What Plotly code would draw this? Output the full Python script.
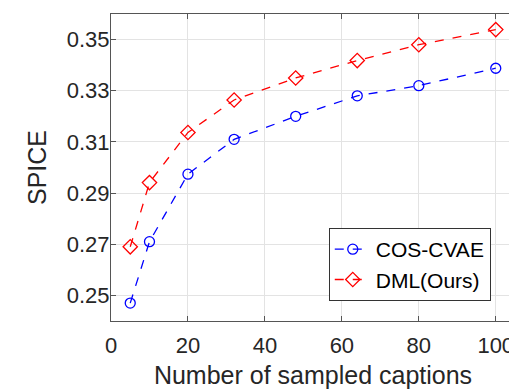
import plotly.graph_objects as go

num_captions = [5, 10, 20, 32, 48, 64, 80, 100]
cos_cvae = [0.247, 0.271, 0.2974, 0.311, 0.320, 0.328, 0.332, 0.3388]
dml_ours = [0.269, 0.2941, 0.3137, 0.3264, 0.335, 0.3418, 0.348, 0.3539]
x_ticks = [0, 20, 40, 60, 80, 100]
y_ticks = [0.25, 0.27, 0.29, 0.31, 0.33, 0.35]

FONT = "Liberation Sans, Arial, sans-serif"
TXT = "#262626"

fig = go.Figure()
fig.add_trace(go.Scatter(
    x=num_captions, y=cos_cvae, name="COS-CVAE", mode="lines+markers",
    line=dict(color="#0000ff", width=1.3, dash="dash"),
    marker=dict(symbol="circle-open", size=10, color="#0000ff", line=dict(width=1.3)),
))
fig.add_trace(go.Scatter(
    x=num_captions, y=dml_ours, name="DML(Ours)", mode="lines+markers",
    line=dict(color="#ff0000", width=1.3, dash="dash"),
    marker=dict(symbol="diamond-open", size=11, color="#ff0000", line=dict(width=1.3)),
))

axis_common = dict(
    showline=True, linecolor="#555555", linewidth=1, mirror="ticks",
    ticks="inside", ticklen=5, tickcolor="#555555",
    showgrid=True, gridcolor="#e3e3e3", gridwidth=1, zeroline=False,
    tickfont=dict(family=FONT, size=22, color=TXT), automargin=False,
)

fig.update_xaxes(
    range=[0, 105], tickvals=x_ticks, ticklabelstandoff=5,
    title=dict(text="Number of sampled captions", font=dict(family=FONT, size=25, color=TXT), standoff=17),
    **axis_common,
)
fig.update_yaxes(
    range=[0.24, 0.36], tickvals=y_ticks, tickformat=".2f", ticklabelstandoff=-4,
    title=dict(text="SPICE", font=dict(family=FONT, size=25, color=TXT), standoff=13),
    **axis_common,
)

# page body has an 8px margin: figure drawn 8px smaller and shifted
fig.update_layout(
    width=509, height=381,
    margin=dict(l=103, r=2, t=6, b=68),
    plot_bgcolor="white", paper_bgcolor="white",
    legend=dict(
        x=0.94, y=0.065, xanchor="right", yanchor="bottom",
        bgcolor="white", bordercolor="#333333", borderwidth=1,
        font=dict(family=FONT, size=21, color="black"),
        itemwidth=36, tracegroupgap=0,
    ),
)

fig.write_html("out.html")
